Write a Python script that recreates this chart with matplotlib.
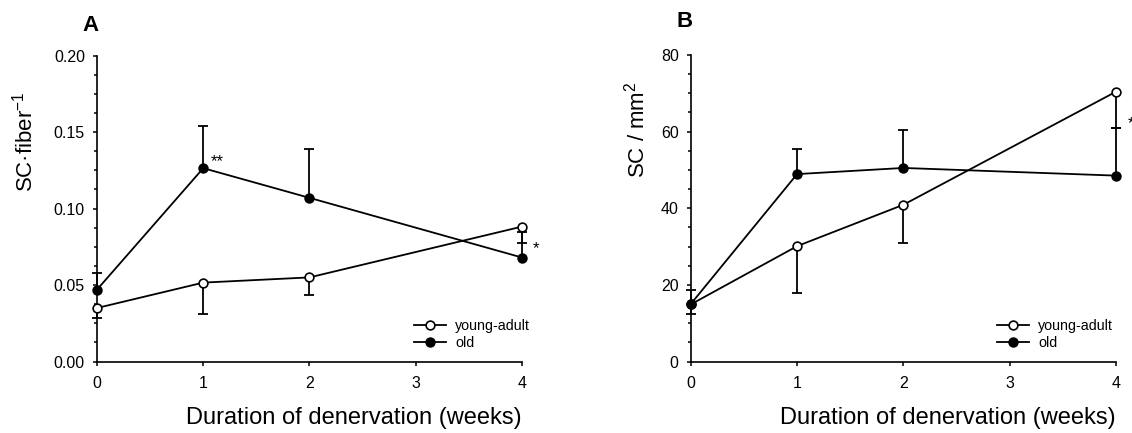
import numpy as np
import matplotlib
matplotlib.use("Agg")
import matplotlib.pyplot as plt
from matplotlib.ticker import MultipleLocator, FormatStrFormatter

plt.rcParams['font.family'] = ['Liberation Sans', 'DejaVu Sans']
plt.rcParams['mathtext.default'] = 'regular'

weeks = np.array([0, 1, 2, 4])

# panel A: SC per fiber
young_A = np.array([0.035, 0.0516, 0.055, 0.0882])
young_A_lo = np.array([0.0066, 0.0204, 0.0115, 0.0108])
old_A = np.array([0.047, 0.1264, 0.107, 0.068])
old_A_hi = np.array([0.0107, 0.0278, 0.032, 0.017])

# panel B: SC per mm2
young_B = np.array([14.9, 30.1, 40.9, 70.4])
young_B_lo = np.array([2.6, 12.2, 9.9, 9.4])
old_B = np.array([15.0, 48.9, 50.5, 48.5])
old_B_hi = np.array([3.7, 6.6, 9.9, 12.5])

fig = plt.figure(figsize=(11.32, 4.33), dpi=100)
axA = fig.add_axes([0.0857, 0.165, 0.3754, 0.7067])
axB = fig.add_axes([0.6102, 0.165, 0.3757, 0.7083])

lw = 1.3
cap = 7.7


def draw(ax, y1, lo1, y2, hi2):
    # one-sided error bars (young downwards, old upwards)
    ax.errorbar(weeks, y1, yerr=[lo1, np.zeros_like(lo1)], fmt='none', ecolor='k',
                elinewidth=lw, capsize=0, clip_on=False, zorder=2)
    ax.errorbar(weeks, y2, yerr=[np.zeros_like(hi2), hi2], fmt='none', ecolor='k',
                elinewidth=lw, capsize=0, clip_on=False, zorder=2)
    ax.plot(weeks, y1 - lo1, ls='none', marker='_', ms=cap, mew=lw, color='k', clip_on=False, zorder=2)
    ax.plot(weeks, y2 + hi2, ls='none', marker='_', ms=cap, mew=lw, color='k', clip_on=False, zorder=2)
    ax.plot(weeks, y1, '-o', color='k', lw=lw, ms=6.3, mfc='white', mec='k', mew=1.2,
            label='young-adult', clip_on=False, zorder=3)
    ax.plot(weeks, y2, '-o', color='k', lw=lw, ms=6.3, mfc='k', mec='k', mew=1.2,
            label='old', clip_on=False, zorder=4)
    ax.set_xlim(0, 4)
    ax.set_xticks([0, 1, 2, 3, 4])
    for s in ['top', 'right']:
        ax.spines[s].set_visible(False)
    for s in ['left', 'bottom']:
        ax.spines[s].set_linewidth(1.2)
    ax.tick_params(which='major', direction='out', length=3.2, width=1.1, labelsize=11.5, pad=5.5)
    ax.tick_params(which='minor', direction='out', length=2.0, width=1.1)
    ax.tick_params(axis='x', pad=7)
    ax.set_xlabel('Duration of denervation (weeks)', fontsize=17, loc='right', labelpad=12)


draw(axA, young_A, young_A_lo, old_A, old_A_hi)
axA.set_ylim(0, 0.20)
axA.yaxis.set_major_locator(MultipleLocator(0.05))
axA.yaxis.set_minor_locator(MultipleLocator(0.0125))
axA.yaxis.set_major_formatter(FormatStrFormatter('%.2f'))
axA.set_ylabel('SC·fiber$^{-1}$', fontsize=16)
axA.yaxis.set_label_coords(-0.14, 0.718)
axA.text(1.07, 0.1275, '**', fontsize=12, ha='left', va='baseline')
axA.text(4.10, 0.0706, '*', fontsize=12, ha='left', va='baseline', clip_on=False)
axA.legend(loc='center left', bbox_to_anchor=(0.746, 0.088), frameon=False, fontsize=10.3,
           handlelength=2.24, handletextpad=0.63, labelspacing=0.25, borderpad=0,
           borderaxespad=0, numpoints=1)
fig.text(0.073, 0.928, 'A', fontsize=16, fontweight='bold')

draw(axB, young_B, young_B_lo, old_B, old_B_hi)
axB.set_ylim(0, 80)
axB.yaxis.set_major_locator(MultipleLocator(20))
axB.yaxis.set_minor_locator(MultipleLocator(5))
axB.set_ylabel('SC / mm$^{2}$', fontsize=16)
axB.yaxis.set_label_coords(-0.096, 0.755)
axB.text(4.11, 60.9, '*', fontsize=12, ha='left', va='baseline', clip_on=False)
axB.legend(loc='center left', bbox_to_anchor=(0.72, 0.088), frameon=False, fontsize=10.3,
           handlelength=2.24, handletextpad=0.63, labelspacing=0.25, borderpad=0,
           borderaxespad=0, numpoints=1)
fig.text(0.598, 0.938, 'B', fontsize=16, fontweight='bold')

fig.savefig('out.png', dpi=100)
